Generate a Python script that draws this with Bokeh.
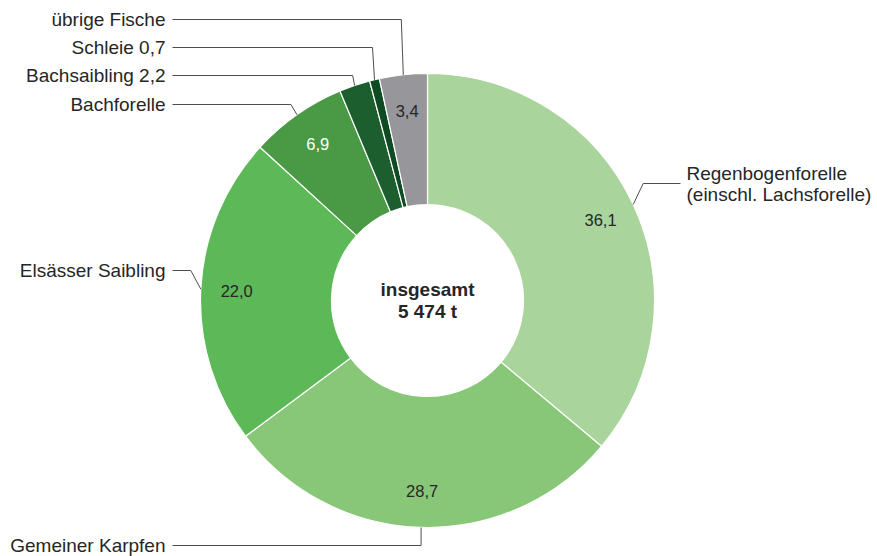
import math
from bokeh.plotting import figure
from bokeh.models import Range1d, ColumnDataSource
from bokeh.core.properties import value
from bokeh.embed import file_html
from bokeh.resources import INLINE

# ---- data ----
categories = ["Regenbogenforelle", "Gemeiner Karpfen", "Elsässer Saibling", "Bachforelle",
              "Bachsaibling", "Schleie", "übrige Fische"]
shares = [36.1, 28.7, 22.0, 6.9, 2.2, 0.7, 3.4]
value_labels = ["36,1", "28,7", "22,0", "6,9", "2,2", "0,7", "3,4"]
colors = ["#a9d49b", "#88c777", "#5db957", "#4a9944", "#1d5e2f", "#0e4a22", "#97979b"]
inside_label = [True, True, True, True, False, False, True]
inside_text_color = ["#262626", "#262626", "#262626", "#ffffff", "#ffffff", "#ffffff", "#262626"]
outer_texts = [["Regenbogenforelle", "(einschl. Lachsforelle)"], ["Gemeiner Karpfen"],
               ["Elsässer Saibling"], ["Bachforelle"], ["Bachsaibling 2,2"], ["Schleie 0,7"],
               ["übrige Fische"]]
total_label = ["insgesamt", "5 474 t"]

W, H = 877, 556
FONT = "Liberation Sans"

def Y(page_y):
    return H - page_y

p = figure(width=W, height=H, output_backend="svg", toolbar_location=None,
           x_range=Range1d(0, W), y_range=Range1d(0, H), min_border=0)
p.axis.visible = False
p.grid.visible = False
p.outline_line_color = None
p.background_fill_color = "white"
p.border_fill_color = "white"

cx, cy = 427, Y(300)
r_out, r_in, r_lab = 227, 96, 191

total = sum(shares)
starts, ends, mids = [], [], []
cum = 0.0
for s in shares:
    a0 = math.pi / 2 - 2 * math.pi * cum / total
    cum += s
    a1 = math.pi / 2 - 2 * math.pi * cum / total
    starts.append(a0)
    ends.append(a1)
    mids.append((a0 + a1) / 2)

src = ColumnDataSource(dict(start=starts, end=ends, color=colors))
p.annular_wedge(x=cx, y=cy, inner_radius=r_in, outer_radius=r_out, start_angle="start",
                end_angle="end", direction="clock", fill_color="color",
                line_color="white", line_width=1.2, source=src)

# inside value labels
lx, ly, lt, lc = [], [], [], []
for i in range(len(shares)):
    if inside_label[i]:
        lx.append(cx + r_lab * math.cos(mids[i]))
        ly.append(cy + r_lab * math.sin(mids[i]))
        lt.append(value_labels[i])
        lc.append(inside_text_color[i])
p.text(x=lx, y=ly, text=lt, text_color=lc, text_align="center", text_baseline="middle",
       text_font=value(FONT), text_font_size="16.5px")

# center text
p.text(x=[cx, cx], y=[Y(289), Y(311)], text=total_label, text_align="center",
       text_baseline="middle", text_font=value(FONT), text_font_size="19px",
       text_font_style="bold", text_color="#262626")

# leader lines + outer labels (layout positions)
label_page_y = [183, 545, 270, 104, 75, 47, 19]
elbow_dx = [10, 0, -10, -6, -2, -2, -2]
side = [1, -1, -1, -1, -1, -1, -1]
text_x_left = 165
line_x_left = 172
text_x_right = 686
line_x_right = 680

for i in range(len(shares)):
    ax = cx + r_out * math.cos(mids[i])
    ay = cy + r_out * math.sin(mids[i])
    ey = Y(label_page_y[i])
    ex = ax + elbow_dx[i]
    if side[i] < 0:
        xs = [ax, ex, line_x_left]
    else:
        xs = [ax, ex, line_x_right]
    p.line(x=xs, y=[ay, ey, ey], line_color="#4d4d4d", line_width=1)
    lines = outer_texts[i]
    if side[i] < 0:
        p.text(x=[text_x_left], y=[ey], text=lines, text_align="right", text_baseline="middle",
               text_font=value(FONT), text_font_size="19px", text_color="#262626")
    else:
        ys = [ey + 10.5 - 21 * k for k in range(len(lines))]
        p.text(x=[text_x_right] * len(lines), y=ys, text=lines, text_align="left",
               text_baseline="middle", text_font=value(FONT), text_font_size="19px",
               text_color="#262626")

open("out.html", "w").write(file_html(p, INLINE))
